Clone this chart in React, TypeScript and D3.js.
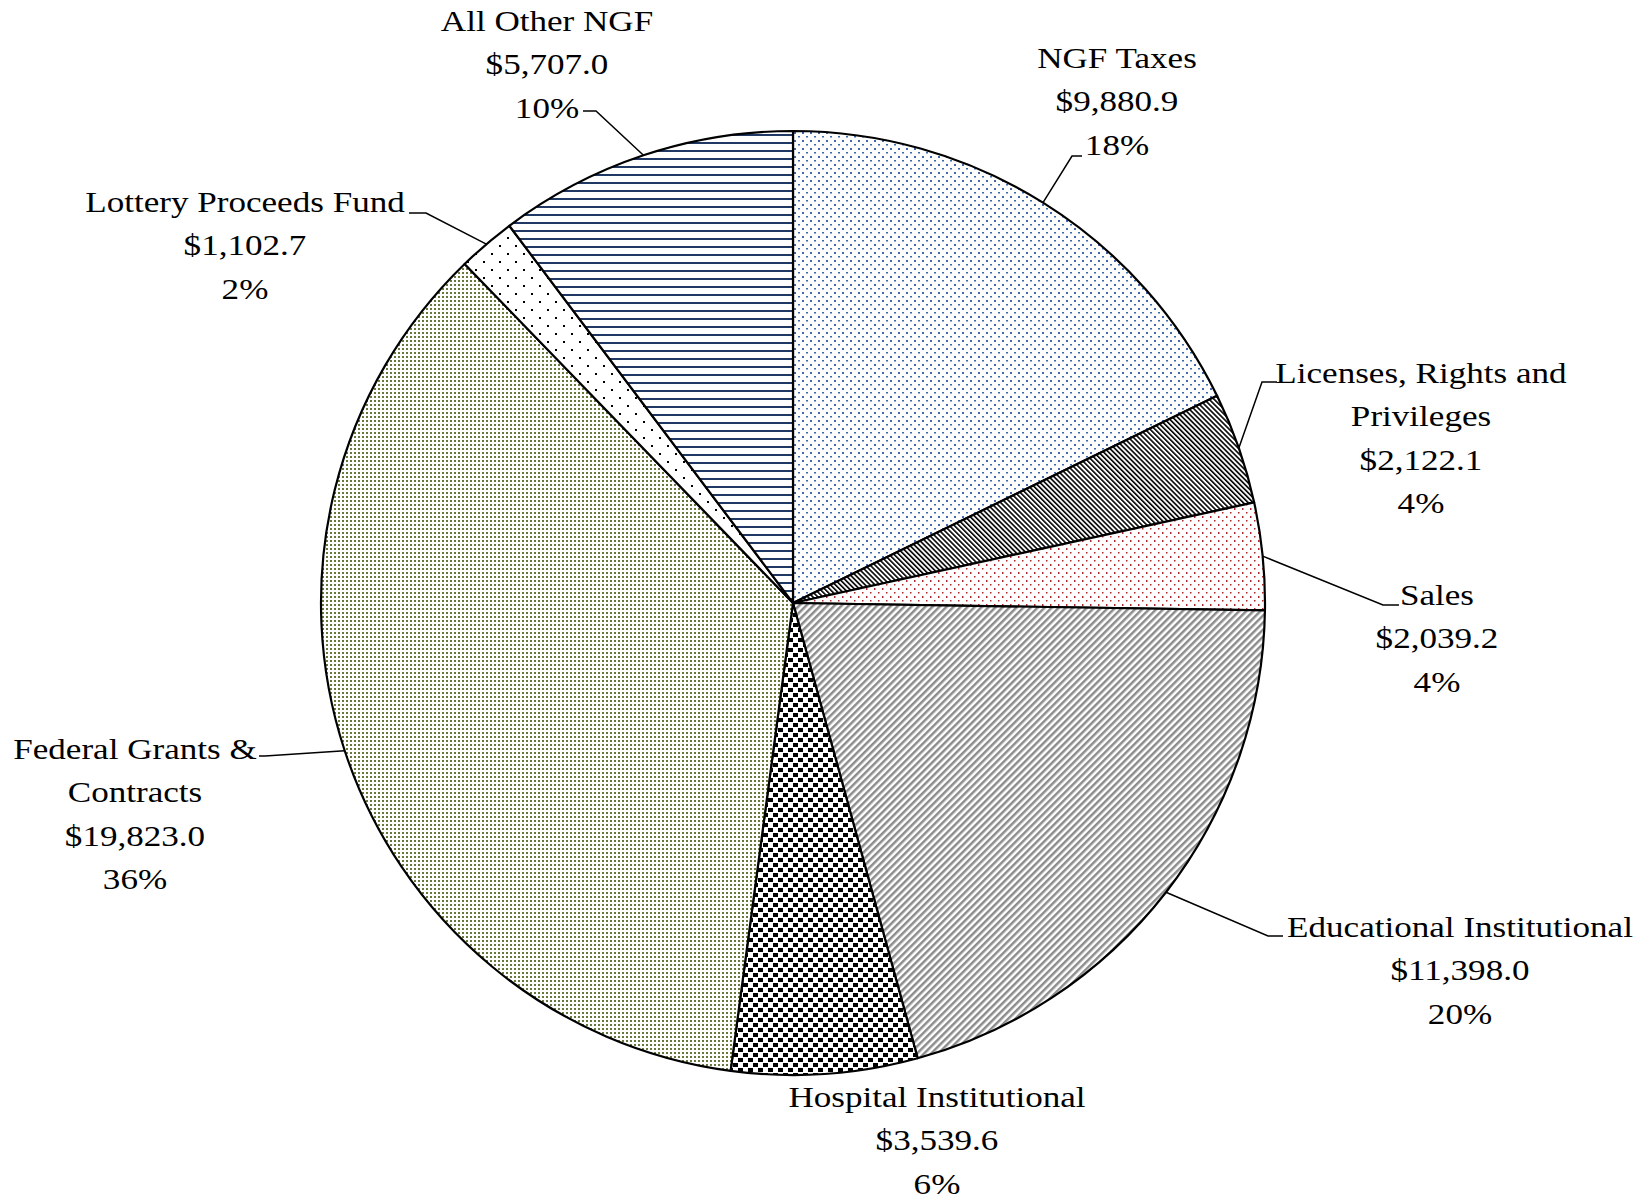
import React from "react";
import * as d3 from "d3";

const categories = [
  "NGF Taxes",
  "Licenses, Rights and Privileges",
  "Sales",
  "Educational Institutional",
  "Hospital Institutional",
  "Federal Grants & Contracts",
  "Lottery Proceeds Fund",
  "All Other NGF",
];
const values = [9880.9, 2122.1, 2039.2, 11398.0, 3539.6, 19823.0, 1102.7, 5707.0];
const labelLines = [
  ["NGF Taxes"],
  ["Licenses, Rights and", "Privileges"],
  ["Sales"],
  ["Educational Institutional"],
  ["Hospital Institutional"],
  ["Federal Grants &", "Contracts"],
  ["Lottery Proceeds Fund"],
  ["All Other NGF"],
];
const patternIds = ["pNgf", "pLic", "pSales", "pEdu", "pHosp", "pFed", "pLot", "pOther"];

// layout of labels: center x, first line y, leader [start x, start y, elbow x] (null = no leader)
const labelLayout: { x: number; y: number; leader: null | [number, number, number] }[] = [
  { x: 1117, y: 58, leader: [1082, 156, 1072] },
  { x: 1421, y: 373, leader: [1277, 382, 1262] },
  { x: 1437, y: 595, leader: [1399, 605, 1383] },
  { x: 1460, y: 927, leader: [1283, 936, 1268] },
  { x: 937, y: 1097, leader: null },
  { x: 135, y: 749, leader: [259, 756, 265] },
  { x: 245, y: 202, leader: [409, 213, 426] },
  { x: 547, y: 21, leader: [583, 111, 596] },
];

const W = 1652;
const H = 1201;
const cx = 793;
const cy = 603;
const R = 472;
const lineH = 43.3;
const FONT = "'Palatino Linotype', 'Book Antiqua', Palatino, 'Liberation Serif', serif";
const XSCALE = 1.17;

export default function App() {
  const total = d3.sum(values);
  const pie = d3.pie<number>().sort(null).value((d) => d)(values);
  const arc = d3.arc<d3.PieArcDatum<number>>().innerRadius(0).outerRadius(R);
  const fmt = d3.format(",.1f");

  return (
    <svg width={W} height={H} style={{ position: "absolute", left: 0, top: 0, background: "#fff" }}>
      <defs>
        <pattern id="pNgf" width={8} height={8} patternUnits="userSpaceOnUse">
          <rect width={8} height={8} fill="#fff" />
          <rect x={1} y={1} width={2} height={2} fill="#4068ad" />
          <rect x={5} y={5} width={2} height={1.5} fill="#4068ad" />
        </pattern>
        <pattern id="pLic" width={3.5} height={3.5} patternUnits="userSpaceOnUse" patternTransform="rotate(-45)">
          <rect width={3.5} height={3.5} fill="#fff" />
          <rect x={0} y={0} width={1.6} height={3.5} fill="#000" />
        </pattern>
        <pattern id="pSales" width={8} height={8} patternUnits="userSpaceOnUse">
          <rect width={8} height={8} fill="#fff" />
          <rect x={1} y={1} width={1.5} height={2} fill="#b0282e" />
          <rect x={5} y={5} width={1.5} height={1.5} fill="#b0282e" />
        </pattern>
        <pattern id="pEdu" width={5} height={5} patternUnits="userSpaceOnUse" patternTransform="rotate(45)">
          <rect width={5} height={5} fill="#fff" />
          <rect x={0} y={0} width={2.5} height={5} fill="#8c8c8c" />
        </pattern>
        <pattern id="pHosp" width={10} height={10} patternUnits="userSpaceOnUse">
          <rect width={10} height={10} fill="#fff" />
          <rect x={0} y={0} width={5} height={4} fill="#000" />
          <rect x={5} y={5} width={5} height={4} fill="#000" />
        </pattern>
        <pattern id="pFed" width={4} height={4} patternUnits="userSpaceOnUse">
          <rect width={4} height={4} fill="#fff" />
          <rect x={1} y={1} width={2} height={2} fill="#66793a" />
        </pattern>
        <pattern id="pLot" width={16} height={16} patternUnits="userSpaceOnUse">
          <rect width={16} height={16} fill="#fff" />
          <rect x={2} y={2} width={2} height={2} fill="#000" />
          <rect x={10} y={10} width={2} height={2} fill="#000" />
        </pattern>
        <pattern id="pOther" width={8} height={8} patternUnits="userSpaceOnUse">
          <rect width={8} height={8} fill="#fff" />
          <rect x={0} y={3} width={8} height={2} fill="#1f3864" />
        </pattern>
      </defs>
      <g transform={`translate(${cx},${cy})`}>
        {pie.map((p, i) => (
          <path key={categories[i]} d={arc(p) || ""} fill={`url(#${patternIds[i]})`} stroke="#000" strokeWidth={2.2} strokeLinejoin="round" />
        ))}
      </g>
      {pie.map((p, i) => {
        const lay = labelLayout[i];
        const lines = [...labelLines[i], "$" + fmt(values[i]), Math.round((values[i] / total) * 100) + "%"];
        const mid = (p.startAngle + p.endAngle) / 2;
        const ex = cx + Math.sin(mid) * R;
        const ey = cy - Math.cos(mid) * R;
        return (
          <g key={"l" + i}>
            {lay.leader && (
              <polyline
                points={`${lay.leader[0]},${lay.leader[1]} ${lay.leader[2]},${lay.leader[1]} ${ex},${ey}`}
                fill="none"
                stroke="#000"
                strokeWidth={1.5}
              />
            )}
            {lines.map((t, j) => (
              <text
                key={j}
                transform={`translate(${lay.x},${lay.y + j * lineH}) scale(${XSCALE},1)`}
                textAnchor="middle"
                dominantBaseline="central"
                fontFamily={FONT}
                fontSize={30}
                fill="#000"
              >
                {t}
              </text>
            ))}
          </g>
        );
      })}
    </svg>
  );
}
